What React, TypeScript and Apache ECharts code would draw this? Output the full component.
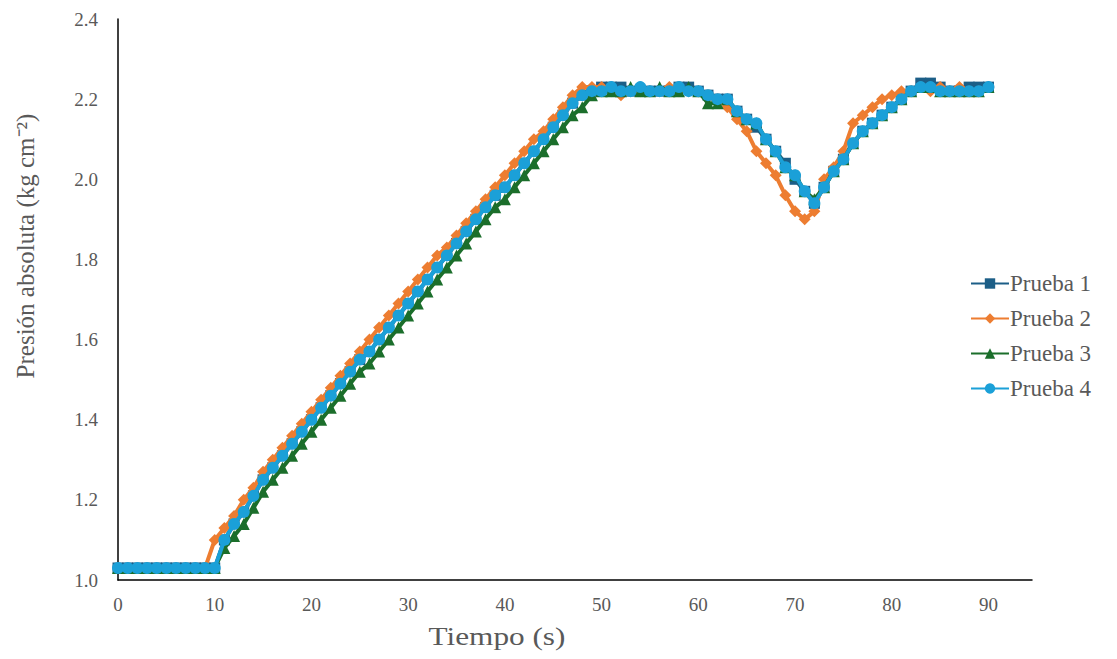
import React, { useEffect, useRef } from "react";
import * as echarts from "echarts";

const tiempo = [
  0, 1, 2, 3, 4, 5, 6, 7, 8, 9, 10, 11, 12, 13, 14, 15, 16, 17, 18, 19, 20,
  21, 22, 23, 24, 25, 26, 27, 28, 29, 30, 31, 32, 33, 34, 35, 36, 37, 38, 39, 40,
  41, 42, 43, 44, 45, 46, 47, 48, 49, 50, 51, 52, 53, 54, 55, 56, 57, 58, 59, 60,
  61, 62, 63, 64, 65, 66, 67, 68, 69, 70, 71, 72, 73, 74, 75, 76, 77, 78, 79, 80,
  81, 82, 83, 84, 85, 86, 87, 88, 89, 90,
];

const prueba1 = [
  1.03, 1.03, 1.03, 1.03, 1.03, 1.03, 1.03, 1.03, 1.03, 1.03, 1.03,
  1.10, 1.14, 1.17, 1.21, 1.25, 1.28, 1.31, 1.34, 1.37, 1.40,
  1.43, 1.46, 1.49, 1.52, 1.55, 1.57, 1.60, 1.63, 1.66, 1.69,
  1.72, 1.75, 1.78, 1.81, 1.84, 1.87, 1.90, 1.93, 1.96, 1.98,
  2.01, 2.04, 2.07, 2.10, 2.13, 2.16, 2.19, 2.21, 2.22, 2.23,
  2.23, 2.23, 2.22, 2.22, 2.22, 2.22, 2.22, 2.23, 2.23, 2.22,
  2.21, 2.20, 2.20, 2.17, 2.15, 2.13, 2.10, 2.07, 2.04, 2.00,
  1.97, 1.94, 1.98, 2.02, 2.05, 2.09, 2.12, 2.14, 2.16, 2.18,
  2.20, 2.22, 2.24, 2.24, 2.23, 2.22, 2.22, 2.23, 2.23, 2.23,
];

const prueba2 = [
  1.03, 1.03, 1.03, 1.03, 1.03, 1.03, 1.03, 1.03, 1.03, 1.03,
  1.10, 1.13, 1.16, 1.20, 1.23, 1.27, 1.30, 1.33, 1.36, 1.39, 1.42,
  1.45, 1.48, 1.51, 1.54, 1.57, 1.60, 1.63, 1.66, 1.69, 1.72,
  1.75, 1.78, 1.81, 1.83, 1.86, 1.89, 1.92, 1.95, 1.98, 2.01,
  2.04, 2.07, 2.10, 2.12, 2.15, 2.18, 2.21, 2.23, 2.23, 2.23,
  2.22, 2.21, 2.22, 2.22, 2.22, 2.22, 2.23, 2.22, 2.22, 2.22,
  2.21, 2.20, 2.18, 2.15, 2.12, 2.07, 2.04, 2.01, 1.96, 1.92,
  1.90, 1.92, 2.00, 2.03, 2.07, 2.14, 2.16, 2.18, 2.20, 2.21,
  2.22, 2.22, 2.23, 2.22, 2.23, 2.22, 2.23, 2.22, 2.22, 2.23,
];

const prueba3 = [
  1.03, 1.03, 1.03, 1.03, 1.03, 1.03, 1.03, 1.03, 1.03, 1.03, 1.03,
  1.08, 1.11, 1.14, 1.18, 1.22, 1.25, 1.28, 1.31, 1.34, 1.37,
  1.40, 1.43, 1.46, 1.49, 1.52, 1.54, 1.57, 1.60, 1.63, 1.66,
  1.69, 1.72, 1.75, 1.78, 1.81, 1.84, 1.87, 1.90, 1.93, 1.95,
  1.98, 2.01, 2.04, 2.07, 2.10, 2.13, 2.16, 2.18, 2.21, 2.22,
  2.22, 2.22, 2.23, 2.22, 2.22, 2.23, 2.22, 2.22, 2.23, 2.22,
  2.19, 2.19, 2.20, 2.17, 2.15, 2.14, 2.10, 2.07, 2.03, 2.01,
  1.97, 1.95, 1.98, 2.02, 2.05, 2.09, 2.12, 2.14, 2.16, 2.18,
  2.20, 2.22, 2.23, 2.23, 2.22, 2.22, 2.22, 2.22, 2.22, 2.23,
];

const prueba4 = [
  1.03, 1.03, 1.03, 1.03, 1.03, 1.03, 1.03, 1.03, 1.03, 1.03, 1.03,
  1.10, 1.14, 1.17, 1.21, 1.25, 1.28, 1.31, 1.34, 1.37, 1.40,
  1.43, 1.46, 1.49, 1.52, 1.55, 1.57, 1.60, 1.63, 1.66, 1.69,
  1.72, 1.75, 1.78, 1.81, 1.84, 1.87, 1.90, 1.93, 1.96, 1.98,
  2.01, 2.04, 2.07, 2.10, 2.13, 2.16, 2.19, 2.21, 2.22, 2.22,
  2.23, 2.22, 2.22, 2.23, 2.22, 2.22, 2.22, 2.23, 2.22, 2.22,
  2.21, 2.20, 2.20, 2.17, 2.15, 2.14, 2.10, 2.07, 2.03, 2.01,
  1.97, 1.94, 1.98, 2.02, 2.05, 2.09, 2.12, 2.14, 2.16, 2.18,
  2.20, 2.22, 2.23, 2.23, 2.22, 2.22, 2.22, 2.22, 2.22, 2.23,
];

const seriesNames = ["Prueba 1", "Prueba 2", "Prueba 3", "Prueba 4"];
const seriesColors = ["#1C5E87", "#ED7D31", "#1B6E2B", "#1BA0D8"];
const seriesSymbols = ["rect", "diamond", "triangle", "circle"];
const seriesSymbolSizes = [11, 12, 12, 12];
const seriesValues = [prueba1, prueba2, prueba3, prueba4];

const xTitle = "Tiempo (s)";
const yTitle = "Presión absoluta (kg cm⁻²)";

const FONT = "Liberation Serif, Times New Roman, serif";
const GRAY = "#595959";

export default function App() {
  const ref = useRef<HTMLDivElement>(null);

  useEffect(() => {
    if (!ref.current) return;
    const chart = echarts.init(ref.current, null, { renderer: "svg" });

    const series = seriesNames.map((name, i) => ({
      name,
      type: "line",
      data: tiempo.map((t, k) => [t, seriesValues[i][k]]),
      symbol: seriesSymbols[i],
      symbolSize: seriesSymbolSizes[i],
      showAllSymbol: true,
      lineStyle: { color: seriesColors[i], width: 4 },
      itemStyle: { color: seriesColors[i], borderWidth: 0 },
      emphasis: { disabled: true },
      z: 2 + i,
    }));

    chart.setOption({
      animation: false,
      backgroundColor: "#ffffff",
      grid: { left: 118, right: 85, top: 19, bottom: 79, containLabel: false },
      xAxis: {
        type: "value",
        min: 0,
        max: 94.5,
        interval: 10,
        axisLine: { show: true, lineStyle: { color: "#000000", width: 1.5 } },
        axisTick: { show: false },
        splitLine: { show: false },
        axisLabel: {
          color: GRAY,
          fontFamily: FONT,
          fontSize: 19,
          margin: 15,
          showMaxLabel: false,
        },
      },
      yAxis: {
        type: "value",
        min: 1.0,
        max: 2.4,
        interval: 0.2,
        axisLine: { show: true, lineStyle: { color: "#000000", width: 1.5 } },
        axisTick: { show: false },
        splitLine: { show: false },
        axisLabel: {
          color: GRAY,
          fontFamily: FONT,
          fontSize: 19,
          margin: 20,
          formatter: (v: number) => v.toFixed(1),
        },
      },
      legend: {
        orient: "vertical",
        left: 965,
        top: 267,
        itemWidth: 38,
        itemHeight: 13,
        itemGap: 12,
        data: seriesNames,
        textStyle: {
          color: GRAY,
          fontFamily: FONT,
          fontSize: 23,
          padding: [0, 0, 0, -4],
        },
      },
      graphic: [
        {
          type: "text",
          x: 497,
          y: 637,
          scaleX: 1.25,
          style: {
            text: xTitle,
            fill: GRAY,
            font: `25px ${FONT}`,
            align: "center",
            verticalAlign: "middle",
          },
        },
        {
          type: "text",
          x: 25,
          y: 246,
          rotation: Math.PI / 2,
          style: {
            text: yTitle,
            fill: GRAY,
            font: `25px ${FONT}`,
            align: "center",
            verticalAlign: "middle",
          },
        },
      ],
      series,
    });

    return () => chart.dispose();
  }, []);

  return (
    <div
      ref={ref}
      style={{ position: "fixed", left: 0, top: 0, width: 1117, height: 659 }}
    />
  );
}
